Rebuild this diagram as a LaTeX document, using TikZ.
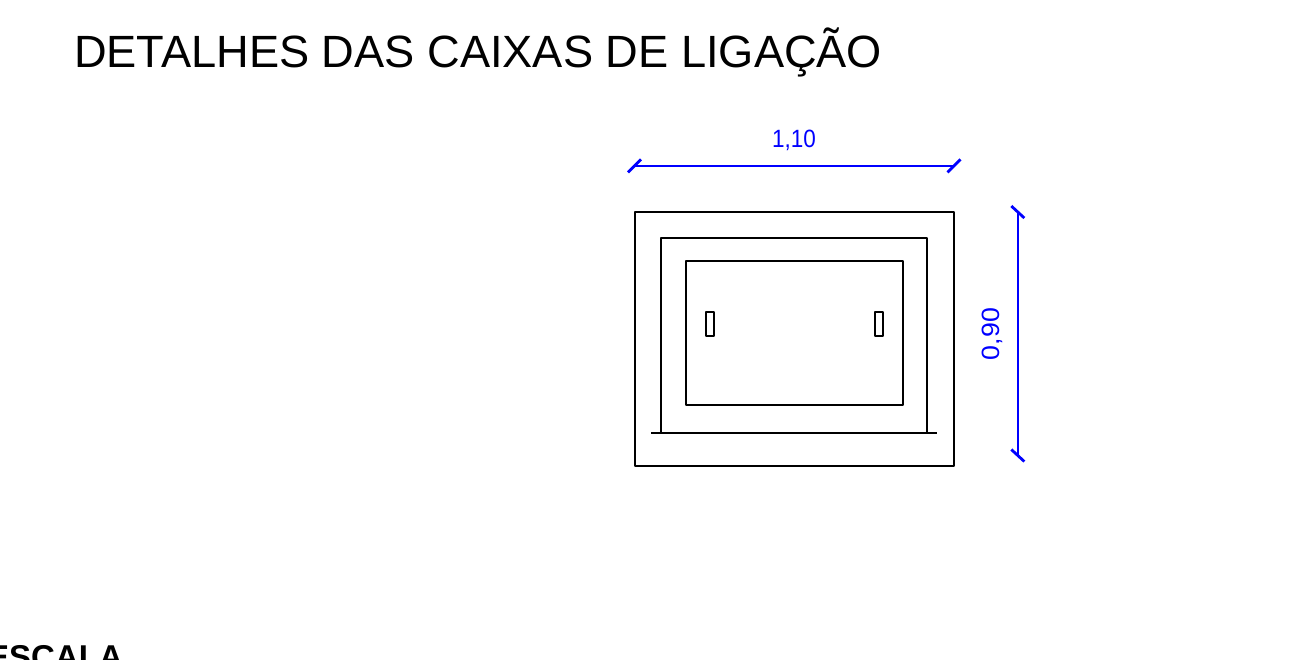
\documentclass[tikz,border=0pt]{standalone}
\usepackage{fontspec}
\setmainfont{Liberation Sans}
\tikzset{
  box/.style={draw=black,line width=2pt,line join=round,fill=none},
  dimline/.style={draw=blue,line width=2pt},
  dimtick/.style={draw=blue,line width=2.8pt},
  dimtext/.style={text=blue,inner sep=0pt,font=\fontsize{25}{25}\selectfont}
}
\begin{document}
\begin{tikzpicture}[x=1pt,y=-1pt]
\useasboundingbox (0,0) rectangle (1309,659);
\node[anchor=base west,inner sep=0pt,font=\fontsize{45.2}{46}\selectfont] (title) at (74,67.5) {DETALHES DAS CAIXAS DE LIGAÇÃO};
\node[anchor=base west,inner sep=0pt,font=\fontsize{33}{33}\selectfont\bfseries] (escala) at (-13,668) {ESCALA};
\draw[box] (635,212) rectangle (954,466);
\draw[box] (660.8,433) -- (660.8,238) -- (927,238) -- (927,433);
\draw[box] (686,261) rectangle (903,405);
\draw[box] (706.2,312) rectangle (714.4,335.5);
\draw[box] (874.6,312) rectangle (882.6,335.5);
\draw[box] (651,433) -- (937,433);
\coordinate (ha) at (634.5,165.8);
\coordinate (hb) at (954,165.8);
\coordinate (va) at (1017.8,212);
\coordinate (vb) at (1017.8,455.5);
\draw[dimline] (ha) -- (hb);
\draw[dimline] (va) -- (vb);
\draw[dimtick] ([shift={(-6.5,6.5)}]ha) -- ([shift={(6.5,-6.5)}]ha);
\draw[dimtick] ([shift={(-6.5,6.5)}]hb) -- ([shift={(6.5,-6.5)}]hb);
\draw[dimtick] ([shift={(-6.5,-6)}]va) -- ([shift={(6.5,6)}]va);
\draw[dimtick] ([shift={(-6.5,-6)}]vb) -- ([shift={(6.5,6)}]vb);
\node[dimtext,xscale=0.9] (wlabel) at (794,140) {1,10};
\node[dimtext,rotate=90,xscale=1.07] (hlabel) at (992.5,334) {0,90};
\end{tikzpicture}
\end{document}
